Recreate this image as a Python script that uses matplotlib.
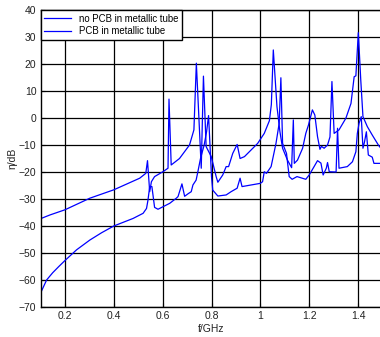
import matplotlib
matplotlib.use("Agg")
from matplotlib import pyplot as plt

plt.rcParams['font.family'] = ['Liberation Sans', 'DejaVu Sans']

# curve 1: no PCB in metallic tube
f_nopcb = [0.100, 0.139, 0.200, 0.302, 0.400, 0.506, 0.531, 0.538, 0.547, 0.554,
           0.567, 0.601, 0.622, 0.626, 0.635, 0.669, 0.710, 0.728, 0.738, 0.758,
           0.767, 0.778, 0.799, 0.819, 0.826, 0.846, 0.860, 0.870, 0.887, 0.905,
           0.917, 0.935, 0.989, 1.016, 1.037, 1.045, 1.053, 1.068, 1.080, 1.091,
           1.111, 1.128, 1.135, 1.139, 1.152, 1.173, 1.186, 1.197, 1.213, 1.223,
           1.234, 1.244, 1.250, 1.261, 1.275, 1.285, 1.293, 1.302, 1.322, 1.350,
           1.371, 1.384, 1.391, 1.401, 1.411, 1.420, 1.438, 1.458, 1.483, 1.500]
eta_nopcb = [-37.3, -35.9, -34.0, -29.7, -26.6, -22.3, -20.5, -15.8, -27.3, -23.6,
             -21.7, -19.9, -18.6, 7.0, -17.4, -15.0, -10.0, -4.4, 20.3, -18.6,
             15.5, -10.6, -14.3, -21.7, -23.8, -21.1, -18.0, -18.0, -13.1, -9.8,
             -15.0, -14.3, -9.4, -5.7, -1.0, 5.0, 25.2, 4.2, -5.0, -11.2,
             -15.6, -18.4, -0.7, -16.8, -15.6, -11.2, -5.7, -2.6, 3.0, 1.1,
             -6.9, -11.6, -10.5, -11.2, -10.0, -7.0, 13.5, -5.7, -4.4, -0.1,
             5.4, 15.3, 15.6, 31.6, 14.1, 0.5, -3.2, -6.3, -10.0, -12.0]

# curve 2: PCB in metallic tube
f_pcb = [0.100, 0.125, 0.150, 0.175, 0.200, 0.248, 0.302, 0.350, 0.400, 0.479,
         0.520, 0.534, 0.540, 0.547, 0.556, 0.567, 0.581, 0.629, 0.656, 0.663,
         0.679, 0.690, 0.705, 0.717, 0.724, 0.737, 0.744, 0.755, 0.770, 0.780,
         0.788, 0.800, 0.805, 0.826, 0.860, 0.880, 0.905, 0.917, 0.925, 1.000,
         1.009, 1.016, 1.025, 1.044, 1.064, 1.077, 1.084, 1.091, 1.107, 1.118,
         1.130, 1.150, 1.186, 1.200, 1.220, 1.234, 1.248, 1.257, 1.270, 1.275,
         1.282, 1.310, 1.316, 1.322, 1.356, 1.377, 1.391, 1.397, 1.404, 1.413,
         1.420, 1.426, 1.434, 1.442, 1.458, 1.465, 1.500]
eta_pcb = [-64.9, -60.0, -57.3, -55.0, -52.8, -48.8, -45.2, -42.5, -40.0, -37.2,
           -35.3, -33.5, -30.4, -25.4, -25.4, -33.1, -33.8, -31.6, -29.7, -29.1,
           -24.4, -29.0, -28.0, -27.3, -24.8, -23.0, -20.0, -15.0, -10.0, -5.0,
           0.9, -21.7, -26.7, -28.9, -28.5, -27.3, -26.0, -22.3, -25.4, -24.2,
           -23.6, -19.9, -20.5, -18.0, -9.4, -2.0, 14.9, -9.4, -13.1, -21.7,
           -22.7, -21.7, -22.7, -21.1, -18.0, -15.8, -16.7, -21.1, -18.6, -16.5,
           -19.9, -20.0, -3.8, -18.6, -18.0, -16.2, -12.5, -5.7, -2.0, 0.5,
           -11.2, -9.0, -5.1, -13.7, -14.5, -16.8, -16.8]

x_ticks = [0.2, 0.4, 0.6, 0.8, 1.0, 1.2, 1.4]
x_ticklabels = ['0.2', '0.4', '0.6', '0.8', '1', '1.2', '1.4']
y_ticks = list(range(-70, 41, 10))

fig = plt.figure(figsize=(3.8, 3.37), dpi=100)
ax = fig.add_axes([40.5 / 380, 30 / 337, 342 / 380, 297 / 337])

ax.plot(f_nopcb, eta_nopcb, color='#0000ff', lw=0.9, label='no PCB in metallic tube')
ax.plot(f_pcb, eta_pcb, color='#0000ff', lw=0.9, label='PCB in metallic tube')

ax.set_xlim(0.1, 1.5)
ax.set_ylim(-70, 40)
ax.set_xticks(x_ticks)
ax.set_xticklabels(x_ticklabels)
ax.set_yticks(y_ticks)
ax.grid(True, color='black', lw=0.9, ls='-')
ax.set_axisbelow(True)
ax.tick_params(direction='in', length=3, labelsize=7.5, pad=3, labelcolor='#222222')
for s in ax.spines.values():
    s.set_linewidth(1.0)
    s.set_color('black')

ax.set_xlabel('f/GHz', fontsize=7.5, labelpad=2, color='#222222')
ax.set_ylabel('η/dB', fontsize=7.5, labelpad=1, color='#222222')

leg = ax.legend(loc='upper left', bbox_to_anchor=(0, 1), borderaxespad=0,
                fontsize=6.9, handlelength=2.8, fancybox=False, framealpha=1,
                edgecolor='black', borderpad=0.4, labelspacing=0.25)
leg.get_frame().set_linewidth(1.0)

fig.savefig('out.png', dpi=100)
